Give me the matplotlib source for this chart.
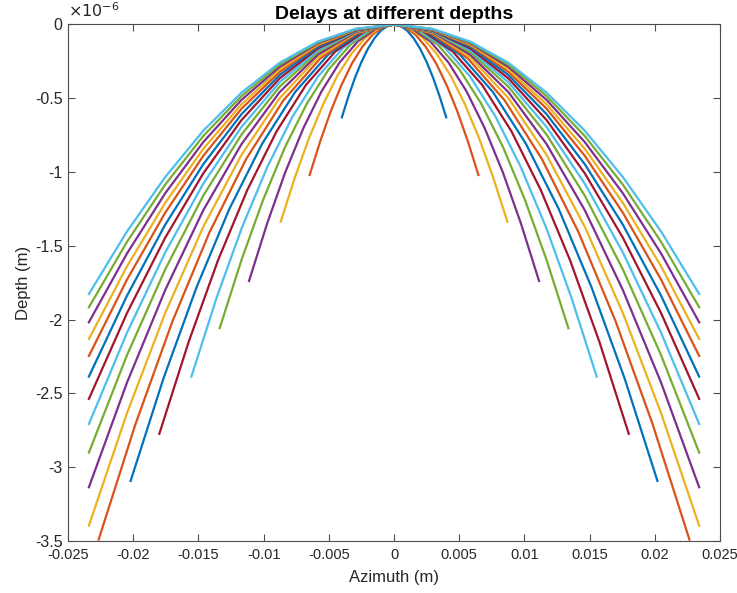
import numpy as np
import matplotlib
matplotlib.use('Agg')
import matplotlib.pyplot as plt

# right half of every delay curve (azimuth in m, delay in 1e-6 s); curves are mirrored about 0
curve_x = [
    [0, 0.0005, 0.001, 0.0015, 0.002, 0.0025, 0.003, 0.0035, 0.004],
    [0, 0.00081, 0.00162, 0.00243, 0.00324, 0.00404, 0.00485, 0.00566, 0.00647],
    [0, 0.00109, 0.00217, 0.00326, 0.00435, 0.00543, 0.00652, 0.0076, 0.00869],
    [0, 0.00139, 0.00278, 0.00417, 0.00556, 0.00695, 0.00834, 0.00973, 0.01112],
    [0, 0.00167, 0.00334, 0.00501, 0.00669, 0.00836, 0.01003, 0.0117, 0.01337],
    [0, 0.00194, 0.00389, 0.00583, 0.00777, 0.00971, 0.01166, 0.0136, 0.01554],
    [0, 0.00225, 0.0045, 0.00675, 0.009, 0.01125, 0.0135, 0.01575, 0.018],
    [0, 0.00253, 0.00505, 0.00758, 0.0101, 0.01263, 0.01515, 0.01768, 0.0202],
    [0, 0.00283, 0.00566, 0.00849, 0.01133, 0.01416, 0.01699, 0.01982, 0.02265],
]
outer_x = [0, 0.00293, 0.00585, 0.00878, 0.0117, 0.01463, 0.01755, 0.02048, 0.0234]
curve_x += [outer_x] * 11

curve_delay = [
    [0, 0.010, 0.041, 0.093, 0.164, 0.254, 0.362, 0.488, 0.629],
    [0, 0.017, 0.067, 0.151, 0.266, 0.412, 0.588, 0.791, 1.020],
    [0, 0.022, 0.088, 0.197, 0.348, 0.540, 0.770, 1.036, 1.336],
    [0, 0.029, 0.115, 0.257, 0.453, 0.702, 1.001, 1.348, 1.738],
    [0, 0.034, 0.136, 0.304, 0.537, 0.831, 1.186, 1.596, 2.058],
    [0, 0.039, 0.157, 0.352, 0.622, 0.964, 1.375, 1.850, 2.386],
    [0, 0.046, 0.183, 0.409, 0.723, 1.121, 1.598, 2.151, 2.774],
    [0, 0.051, 0.204, 0.457, 0.806, 1.250, 1.782, 2.398, 3.093],
    [0, 0.058, 0.230, 0.515, 0.910, 1.410, 2.011, 2.706, 3.490],
    [0, 0.056, 0.223, 0.500, 0.884, 1.371, 1.956, 2.634, 3.396],
    [0, 0.051, 0.205, 0.459, 0.811, 1.259, 1.800, 2.427, 3.136],
    [0, 0.047, 0.188, 0.422, 0.746, 1.160, 1.660, 2.241, 2.901],
    [0, 0.044, 0.175, 0.392, 0.694, 1.079, 1.545, 2.089, 2.707],
    [0, 0.041, 0.163, 0.366, 0.648, 1.009, 1.445, 1.956, 2.537],
    [0, 0.038, 0.153, 0.343, 0.608, 0.947, 1.357, 1.838, 2.386],
    [0, 0.036, 0.143, 0.322, 0.571, 0.890, 1.276, 1.729, 2.246],
    [0, 0.034, 0.136, 0.305, 0.541, 0.843, 1.209, 1.639, 2.131],
    [0, 0.032, 0.128, 0.288, 0.511, 0.797, 1.144, 1.552, 2.018],
    [0, 0.030, 0.122, 0.273, 0.485, 0.756, 1.085, 1.473, 1.916],
    [0, 0.029, 0.116, 0.260, 0.462, 0.720, 1.034, 1.403, 1.826],
]

x_ticks = [-0.025, -0.02, -0.015, -0.01, -0.005, 0, 0.005, 0.01, 0.015, 0.02, 0.025]
x_labels = ['-0.025', '-0.02', '-0.015', '-0.01', '-0.005', '0', '0.005', '0.01', '0.015', '0.02', '0.025']
y_ticks = [0, -0.5, -1, -1.5, -2, -2.5, -3, -3.5]
y_labels = ['0', '-0.5', '-1', '-1.5', '-2', '-2.5', '-3', '-3.5']

matlab_colors = ['#0072BD', '#D95319', '#EDB120', '#7E2F8E', '#77AC30', '#4DBEEE', '#A2142F']

plt.rcParams['font.family'] = ['Liberation Sans', 'DejaVu Sans']
plt.rcParams['axes.unicode_minus'] = False

fig = plt.figure(figsize=(7.37, 5.93), dpi=100)
ax = fig.add_axes([0.0923, 0.0877, 0.8847, 0.871])

for i in range(len(curve_x)):
    x = np.array(curve_x[i])
    d = np.array(curve_delay[i])
    xs = np.concatenate([-x[::-1], x[1:]])
    ys = -np.concatenate([d[::-1], d[1:]])
    ax.plot(xs, ys, color=matlab_colors[i % 7], lw=1.6)

ax.set_xlim(-0.025, 0.025)
ax.set_ylim(-3.5, 0)
ax.set_xticks(x_ticks)
ax.set_xticklabels(x_labels)
ax.set_yticks(y_ticks)
ax.set_yticklabels(y_labels)

grey = '#262626'
for s in ax.spines.values():
    s.set_color('#4d4d4d')
    s.set_linewidth(0.8)
ax.tick_params(direction='in', top=True, right=True, length=5, width=0.8,
               color='#4d4d4d', labelcolor=grey)
ax.tick_params(axis='x', labelsize=10.5, pad=5)
ax.tick_params(axis='y', labelsize=11.5, pad=4)

ax.set_xlabel('Azimuth (m)', fontsize=12, color=grey, labelpad=6)
ax.set_ylabel('Depth (m)', fontsize=12, color=grey, labelpad=3)
ax.set_title('Delays at different depths', fontsize=14, fontweight='bold', pad=4)
ax.text(0.0, 1.008, r'$\times10^{-6}$', transform=ax.transAxes, fontsize=11.5,
        color=grey, ha='left', va='bottom')

fig.savefig('out.png', dpi=100)
